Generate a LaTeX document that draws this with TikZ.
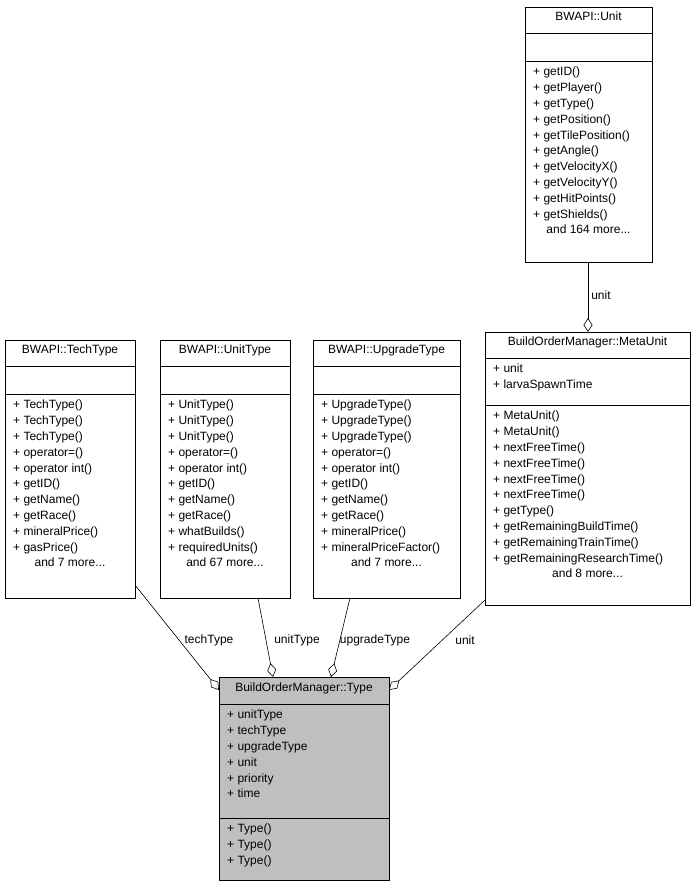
\documentclass[tikz,border=0pt]{standalone}
\usepackage{fontspec}
\setmainfont{Liberation Sans}
\usetikzlibrary{arrows.meta}
\begin{document}
\begin{tikzpicture}[x=1pt,y=-1pt,
  box/.style={draw,line width=0.8pt,inner sep=0pt},
  txt/.style={anchor=north west,align=left,inner sep=0pt,font=\fontsize{12}{15.8}\selectfont},
  ctr/.style={anchor=north,inner sep=0pt,font=\fontsize{12}{15.8}\selectfont},
  lbl/.style={inner sep=1pt,font=\fontsize{12}{14}\selectfont},
  agg/.style={draw,line width=0.6pt,-{Diamond[open,length=14pt,width=9pt,fill=white]}}]
\useasboundingbox (0,0) rectangle (696,888);
% macro: name, x1, y1, ytitle, ysec, x2, y2, fill
\newcommand{\clsbox}[8]{%
  \node[box,fill=#8,minimum width={#6-#2},minimum height={#7-#3},anchor=north west] (#1) at (#2,#3) {};
  \draw[line width=0.8pt] (#2,#4) -- (#6,#4) (#2,#5) -- (#6,#5);}
% BWAPI::Unit
\clsbox{unit}{525}{7}{33}{61}{652}{262}{white}
\node[ctr] (unitT) at (588.5,12) {BWAPI::Unit};
\node[txt] (unitM) at (533,67) {+ getID()\\+ getPlayer()\\+ getType()\\+ getPosition()\\+ getTilePosition()\\+ getAngle()\\+ getVelocityX()\\+ getVelocityY()\\+ getHitPoints()\\+ getShields()};
\node[ctr] (unitMore) at (588.5,225) {and 164 more...};
% MetaUnit
\clsbox{meta}{485}{332}{358}{405}{690}{605}{white}
\node[ctr] (metaT) at (587.5,337) {BuildOrderManager::MetaUnit};
\node[txt] (metaA) at (493,364) {+ unit\\+ larvaSpawnTime};
\node[txt] (metaM) at (493,411) {+ MetaUnit()\\+ MetaUnit()\\+ nextFreeTime()\\+ nextFreeTime()\\+ nextFreeTime()\\+ nextFreeTime()\\+ getType()\\+ getRemainingBuildTime()\\+ getRemainingTrainTime()\\+ getRemainingResearchTime()};
\node[ctr] (metaMore) at (587.5,569) {and 8 more...};
% TechType
\clsbox{tech}{5}{340}{366}{394}{135}{598}{white}
\node[ctr] (techT) at (70,345) {BWAPI::TechType};
\node[txt] (techM) at (13,400) {+ TechType()\\+ TechType()\\+ TechType()\\+ operator=()\\+ operator int()\\+ getID()\\+ getName()\\+ getRace()\\+ mineralPrice()\\+ gasPrice()};
\node[ctr] (techMore) at (70,558) {and 7 more...};
% UnitType
\clsbox{utype}{160}{340}{366}{394}{290}{598}{white}
\node[ctr] (utypeT) at (225,345) {BWAPI::UnitType};
\node[txt] (utypeM) at (168,400) {+ UnitType()\\+ UnitType()\\+ UnitType()\\+ operator=()\\+ operator int()\\+ getID()\\+ getName()\\+ getRace()\\+ whatBuilds()\\+ requiredUnits()};
\node[ctr] (utypeMore) at (225,558) {and 67 more...};
% UpgradeType
\clsbox{upg}{313}{340}{366}{394}{460}{598}{white}
\node[ctr] (upgT) at (386.5,345) {BWAPI::UpgradeType};
\node[txt] (upgM) at (321,400) {+ UpgradeType()\\+ UpgradeType()\\+ UpgradeType()\\+ operator=()\\+ operator int()\\+ getID()\\+ getName()\\+ getRace()\\+ mineralPrice()\\+ mineralPriceFactor()};
\node[ctr] (upgMore) at (386.5,558) {and 7 more...};
% Type
\clsbox{type}{219}{677}{704}{818}{389}{880}{black!25}
\node[ctr] (typeT) at (304,683) {BuildOrderManager::Type};
\node[txt] (typeA) at (227,710) {+ unitType\\+ techType\\+ upgradeType\\+ unit\\+ priority\\+ time};
\node[txt] (typeM) at (227,824) {+ Type()\\+ Type()\\+ Type()};
% connectors
\coordinate (a1) at (588,262); \coordinate (a2) at (588,332);
\draw[agg] (a1) -- (a2) node[lbl,pos=0.48,right=2pt] {unit};
\coordinate (b1) at (135,585); \coordinate (b2) at (219,690);
\draw[agg] (b1) -- (b2);
\node[lbl] (lb) at (209,640) {techType};
\coordinate (c1) at (258,598); \coordinate (c2) at (273,677);
\draw[agg] (c1) -- (c2);
\node[lbl] (lc) at (297,640) {unitType};
\coordinate (d1) at (350,598); \coordinate (d2) at (331,677);
\draw[agg] (d1) -- (d2);
\node[lbl] (ld) at (375,640) {upgradeType};
\coordinate (e1) at (485,600); \coordinate (e2) at (389,690);
\draw[agg] (e1) -- (e2);
\node[lbl] (le) at (465,640) {unit};
\end{tikzpicture}
\end{document}
